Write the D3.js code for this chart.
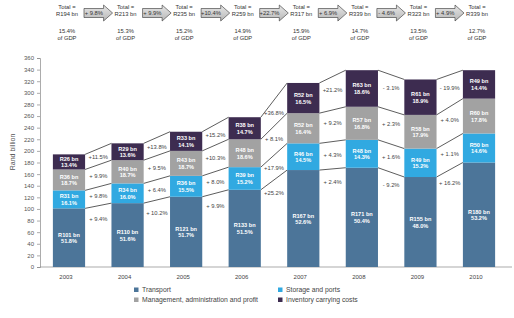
<!DOCTYPE html>
<html>
<head>
<meta charset="utf-8">
<script src="https://cdn.jsdelivr.net/npm/d3@7"></script>
<style>
  body { margin: 0; background: #fff; }
  svg { font-family: "Liberation Sans", Arial, sans-serif; }
</style>
</head>
<body>
<svg id="chart" width="514" height="318"></svg>
<script>
// data
const years = ["2003", "2004", "2005", "2006", "2007", "2008", "2009", "2010"]
const transport = [101, 110, 121, 133, 167, 171, 155, 180]
const storage = [31, 34, 36, 39, 46, 48, 49, 50]
const management = [36, 40, 43, 48, 52, 57, 58, 60]
const inventory = [26, 29, 33, 38, 52, 63, 61, 49]
const transportShare = ["51.8%", "51.6%", "51.7%", "51.5%", "52.6%", "50.4%", "48.0%", "53.2%"]
const storageShare = ["16.1%", "16.0%", "15.5%", "15.2%", "14.5%", "14.3%", "15.2%", "14.6%"]
const managementShare = ["18.7%", "18.7%", "18.7%", "18.6%", "16.4%", "16.8%", "17.9%", "17.8%"]
const inventoryShare = ["13.4%", "13.6%", "14.1%", "14.7%", "16.5%", "18.6%", "18.9%", "14.4%"]
const transportChg = ["+ 9.4%", "+ 10.2%", "+ 9.9%", "+25.2%", "+ 2.4%", "- 9.2%", "+ 16.2%"]
const storageChg = ["+ 9.8%", "+ 6.4%", "+ 8.0%", "+17.9%", "+ 4.3%", "+ 1.6%", "+ 1.1%"]
const managementChg = ["+ 9.9%", "+ 9.5%", "+10.3%", "+ 8.1%", "+ 9.2%", "+ 2.3%", "+ 4.0%"]
const inventoryChg = ["+11.5%", "+13.8%", "+15.2%", "+36.8%", "+21.2%", "- 3.1%", "- 19.9%"]
const totals = ["R194 bn", "R213 bn", "R235 bn", "R259 bn", "R317 bn", "R339 bn", "R323 bn", "R339 bn"]
const gdpShare = ["15.4%", "15.3%", "15.2%", "14.9%", "15.9%", "14.7%", "13.5%", "12.7%"]
const totalChg = ["+ 9.8%", "+ 9.9%", "+10.4%", "+22.7%", "+ 6.9%", "- 4.6%", "+ 4.9%"]
const yTicks = d3.range(0, 361, 20)

const series = [
  {name: "Transport", values: transport, share: transportShare, chg: transportChg, color: "#4c7599"},
  {name: "Storage and ports", values: storage, share: storageShare, chg: storageChg, color: "#31a9e1"},
  {name: "Management, administration and profit", values: management, share: managementShare, chg: managementChg, color: "#a2a2a2"},
  {name: "Inventory carrying costs", values: inventory, share: inventoryShare, chg: inventoryChg, color: "#3d2c50"}
]

let svg = d3.select("#chart")

let x = d3.scaleBand()
  .domain(years)
  .range([40, 508])
  .paddingInner(0.45)
  .paddingOuter(0.22)

let y = d3.scaleLinear()
  .domain([0, 360])
  .range([267, 58])

let bw = x.bandwidth()

// stack the segments
let rows = years.map((yr, i) => {
  let r = {year: yr}
  series.forEach(s => r[s.name] = s.values[i])
  return r
})
let stacked = d3.stack().keys(series.map(s => s.name))(rows)

// y axis
let yAxis = svg.append("g")
  .attr("transform", "translate(40,0)")
  .call(d3.axisLeft(y).tickValues(yTicks).tickSize(3).tickPadding(3))
yAxis.select(".domain").attr("stroke", "#888").attr("stroke-width", 0.7)
yAxis.selectAll(".tick line").attr("stroke", "#888").attr("stroke-width", 0.7)
yAxis.selectAll(".tick text").attr("fill", "#555").style("font-size", "6px").style("font-family", "Liberation Sans, Arial, sans-serif")

svg.append("text")
  .attr("transform", "translate(15,152) rotate(-90)")
  .attr("text-anchor", "middle")
  .attr("fill", "#555")
  .style("font-size", "7px")
  .text("Rand billion")

// baseline
svg.append("line")
  .attr("x1", 40).attr("x2", 512)
  .attr("y1", y(0)).attr("y2", y(0))
  .attr("stroke", "#888").attr("stroke-width", 0.7)

// bars
stacked.forEach((layer, k) => {
  let s = series[k]
  svg.append("g")
    .selectAll("rect")
    .data(layer)
    .join("rect")
    .attr("x", (d, i) => x(years[i]))
    .attr("y", d => y(d[1]))
    .attr("width", bw)
    .attr("height", d => y(d[0]) - y(d[1]))
    .attr("fill", s.color)

  // labels in the segments
  let lab = svg.append("g")
    .selectAll("text")
    .data(layer)
    .join("text")
    .attr("text-anchor", "middle")
    .attr("fill", "#fff")
    .style("font-size", "5.6px")
    .style("font-weight", "bold")
    .attr("x", (d, i) => x(years[i]) + bw / 2)
    .attr("y", d => (y(d[0]) + y(d[1])) / 2 - 1)
  lab.append("tspan").text((d, i) => "R" + s.values[i] + " bn")
  lab.append("tspan")
    .attr("x", (d, i) => x(years[i]) + bw / 2)
    .attr("dy", 6.5)
    .text((d, i) => s.share[i])

  // connector lines between tops of same segment
  let gaps = d3.range(years.length - 1)
  svg.append("g")
    .selectAll("line")
    .data(gaps)
    .join("line")
    .attr("x1", i => x(years[i]) + bw)
    .attr("y1", i => y(layer[i][1]))
    .attr("x2", i => x(years[i + 1]))
    .attr("y2", i => y(layer[i + 1][1]))
    .attr("stroke", "#333")
    .attr("stroke-width", 0.8)

  // percent change labels in the gaps
  svg.append("g")
    .selectAll("text")
    .data(gaps)
    .join("text")
    .attr("text-anchor", "middle")
    .attr("fill", "#444")
    .style("font-size", "5.8px")
    .attr("x", i => (x(years[i]) + bw + x(years[i + 1])) / 2)
    .attr("y", i => {
      let mid = (y(layer[i][1]) + y(layer[i + 1][1])) / 2
      let h = ((y(layer[i][0]) - y(layer[i][1])) + (y(layer[i + 1][0]) - y(layer[i + 1][1]))) / 4
      return mid + Math.min(h, 13) + 2
    })
    .text(i => s.chg[i])
})

// year labels
svg.append("g")
  .selectAll("text")
  .data(years)
  .join("text")
  .attr("text-anchor", "middle")
  .attr("fill", "#444")
  .style("font-size", "6px")
  .attr("x", d => x(d) + bw / 2 - 3)
  .attr("y", 279)
  .text(d => d)

// totals on top
let header = svg.append("g")
header.selectAll("text.total")
  .data(years)
  .join("text")
  .attr("class", "total")
  .attr("text-anchor", "middle")
  .attr("fill", "#333")
  .style("font-size", "5.8px")
  .attr("x", d => x(d) + bw / 2 - 2)
  .attr("y", 9)
  .each(function (d, i) {
    let t = d3.select(this)
    t.append("tspan").text("Total =")
    t.append("tspan").attr("x", x(d) + bw / 2 - 2).attr("dy", 6.5).text(totals[i])
  })

header.selectAll("text.gdp")
  .data(years)
  .join("text")
  .attr("class", "gdp")
  .attr("text-anchor", "middle")
  .attr("fill", "#333")
  .style("font-size", "5.8px")
  .attr("x", d => x(d) + bw / 2 - 2)
  .attr("y", 33)
  .each(function (d, i) {
    let t = d3.select(this)
    t.append("tspan").text(gdpShare[i])
    t.append("tspan").attr("x", x(d) + bw / 2 - 2).attr("dy", 6.5).text("of GDP")
  })

// arrows between totals
let defs = svg.append("defs")
let grad = defs.append("linearGradient").attr("id", "arrowFill").attr("x1", 0).attr("x2", 0).attr("y1", 0).attr("y2", 1)
grad.append("stop").attr("offset", "0%").attr("stop-color", "#e6e6e6")
grad.append("stop").attr("offset", "100%").attr("stop-color", "#b8b8b8")

let arrows = header.selectAll("g.arrow")
  .data(d3.range(years.length - 1))
  .join("g")
  .attr("class", "arrow")

arrows.append("path")
  .attr("d", i => {
    let x0 = x(years[i]) + bw / 2 + 15
    let tip = x(years[i + 1]) + bw / 2 - 15
    let x1 = tip - 9
    let cy = 13
    return "M" + x0 + "," + (cy - 4.5) + "H" + x1 + "V" + (cy - 8) + "L" + tip + "," + cy +
      "L" + x1 + "," + (cy + 8) + "V" + (cy + 4.5) + "H" + x0 + "Z"
  })
  .attr("fill", "url(#arrowFill)")
  .attr("stroke", "#333")
  .attr("stroke-width", 0.6)

arrows.append("text")
  .attr("text-anchor", "middle")
  .attr("fill", "#333")
  .style("font-size", "5.8px")
  .attr("x", i => (x(years[i]) + bw / 2 + 15 + x(years[i + 1]) + bw / 2 - 24) / 2)
  .attr("y", 15)
  .text(i => totalChg[i])

// legend
let legendItems = [series[0], series[1], series[2], series[3]]
let legend = svg.append("g")
let lx = [134, 278]
let ly = [291, 301]
legend.selectAll("g")
  .data(legendItems)
  .join("g")
  .attr("transform", (d, i) => "translate(" + lx[i % 2] + "," + ly[Math.floor(i / 2)] + ")")
  .each(function (d) {
    let g = d3.select(this)
    g.append("rect").attr("x", 0).attr("y", -3.5).attr("width", 4.5).attr("height", 4.5).attr("fill", d.color)
    g.append("text").attr("x", 8).attr("y", 1).attr("fill", "#444").style("font-size", "6.8px").text(d.name)
  })
</script>
</body>
</html>
